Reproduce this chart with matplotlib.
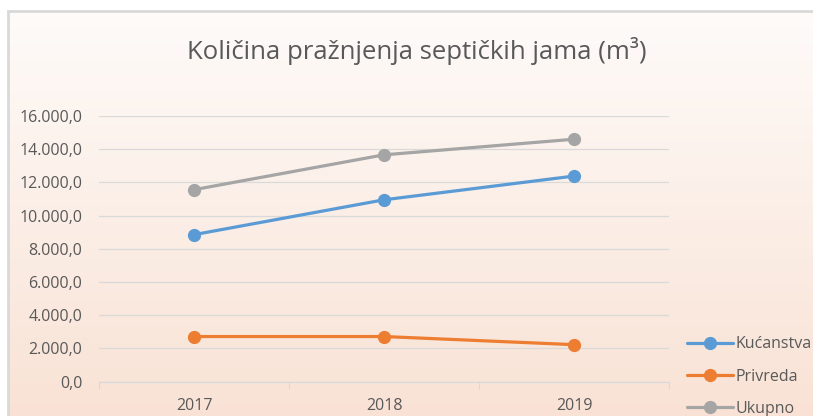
import numpy as np
import matplotlib
matplotlib.use("Agg")
from matplotlib import pyplot as plt
from matplotlib.patches import Rectangle
from matplotlib.ticker import FuncFormatter

years = ["2017", "2018", "2019"]
kucanstva = [8850, 10950, 12380]
privreda = [2710, 2710, 2220]
ukupno = [11560, 13660, 14600]
series_names = ["Kućanstva", "Privreda", "Ukupno"]
colors = ["#5b9bd5", "#ed7d31", "#a5a5a5"]

plt.rcParams['font.family'] = ['Open Sans', 'DejaVu Sans']
W, H = 813, 416
fig = plt.figure(figsize=(W / 100, H / 100), dpi=100)
fig.patch.set_facecolor("white")

# gradient background of chart area
bg = fig.add_axes([8 / W, 0, 1 - 8 / W, (H - 11) / H])
top = np.array([254, 251, 249]) / 255
bot = np.array([249, 226, 213]) / 255
t = np.linspace(0, 1, 256)[:, None]
grad = (top * (1 - t) + bot * t)[:, None, :]
bg.imshow(grad, aspect="auto", extent=[0, 1, 0, 1])
bg.set_axis_off()
fig.patches.append(Rectangle((8 / W, -0.1), 1.2, (H - 11) / H + 0.1,
                             transform=fig.transFigure, fill=False,
                             edgecolor="#d9d9d9", linewidth=2))

ax = fig.add_axes([99 / W, (H - 381.5) / H, 570 / W, (381.5 - 116) / H])
ax.set_facecolor("none")
x = np.arange(len(years))
for vals, name, c in zip([kucanstva, privreda, ukupno], series_names, colors):
    ax.plot(x, vals, color=c, lw=2.3, marker="o", markersize=8.5,
            label=name, solid_capstyle="round")

ax.set_xlim(-0.5, 2.5)
ax.set_ylim(0, 16000)
ax.set_yticks(np.arange(0, 16001, 2000))
ax.yaxis.set_major_formatter(FuncFormatter(
    lambda v, p: "{:,.1f}".format(v).replace(",", "X").replace(".", ",").replace("X", ".")))
ax.set_xticks(x)
ax.set_xticklabels(years)
ax.set_xticks([-0.5, 0.5, 1.5, 2.5], minor=True)
ax.tick_params(axis="x", which="major", length=0, pad=12, labelsize=11.5, labelcolor="#595959")
ax.tick_params(axis="x", which="minor", length=5, color="#d9d9d9", width=0.8)
ax.tick_params(axis="y", length=0, pad=12, labelsize=11.5, labelcolor="#595959")
ax.grid(axis="y", color="#d9d9d9", lw=0.9)
ax.set_axisbelow(True)
for s in ["top", "right", "left"]:
    ax.spines[s].set_visible(False)
ax.spines["bottom"].set_color("#d9d9d9")
ax.spines["bottom"].set_linewidth(0.9)

fig.text(417 / W, 1 - 51 / H, "Količina pražnjenja septičkih jama (m³)",
         ha="center", va="center", fontsize=18.5, color="#595959")

leg = fig.legend(loc="upper left", bbox_to_anchor=(687 / W, 1 - 336.5 / H),
                 frameon=False, fontsize=11.5, handlelength=2.9, handletextpad=0.15,
                 labelspacing=1.02, borderaxespad=0, borderpad=0)
for txt in leg.get_texts():
    txt.set_color("#595959")

fig.savefig("out.png", dpi=100)
